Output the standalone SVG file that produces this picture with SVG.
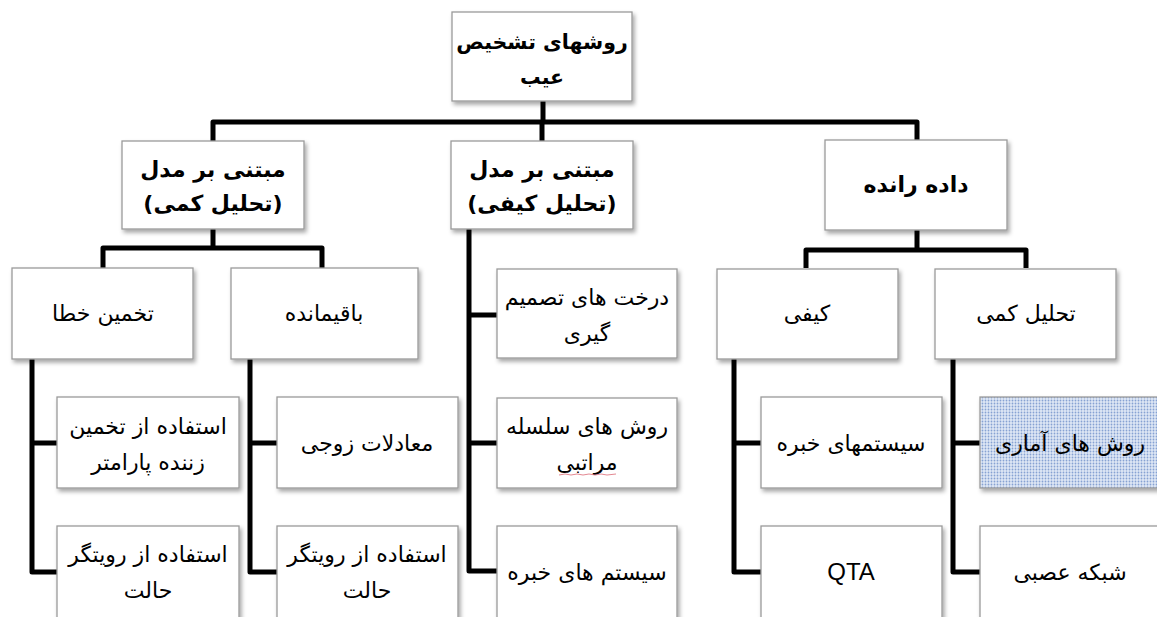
<svg xmlns="http://www.w3.org/2000/svg" width="1157" height="617" viewBox="0 0 1157 617">
  <defs>
    <filter id="sh" x="-10%" y="-10%" width="125%" height="130%">
      <feDropShadow dx="2" dy="3" stdDeviation="2" flood-color="#000" flood-opacity="0.35"/>
    </filter>
    <pattern id="dots" width="3" height="3" patternUnits="userSpaceOnUse">
      <rect width="3" height="3" fill="#dfe7f5"/>
      <circle cx="1.5" cy="1.5" r="0.9" fill="#86a2d3"/>
    </pattern>
    <style>
      .box { fill: #fff; stroke: #9a9a9a; stroke-width: 1.3; filter: url(#sh); }
      .hl { fill: url(#dots); }
      .wire { fill: none; stroke: #000; stroke-width: 5; stroke-linejoin: round; }
      .t { font-family: "DejaVu Sans", "Noto Sans", sans-serif; font-size: 22px; fill: #000; text-anchor: middle; direction: rtl; }
      .b { font-weight: bold; font-size: 22px; }
      .rt { font-size: 20.5px; }
      .lat { font-family: "Liberation Sans", Arial, sans-serif; font-size: 24px; direction: ltr; }
      .squig { fill: none; stroke: #e07a86; stroke-width: 0.9; }
    </style>
  </defs>
  <rect width="1157" height="617" fill="#fff"/>

  <!-- tree connectors -->
  <g id="connectors">
    <path class="wire" d="M543,101 V122"/>
    <path class="wire" d="M213,141 V122 H917 V141"/>
    <path class="wire" d="M542,122 V141"/>
    <path class="wire" d="M213,229 V248"/>
    <path class="wire" d="M103,268 V248 H322 V268"/>
    <path class="wire" d="M917,230 V250"/>
    <path class="wire" d="M806,268 V250 H1026 V268"/>
    <path class="wire" d="M469,229 V571 H497 M469,315 H497 M469,443 H497"/>
    <path class="wire" d="M32,359 V572 H57 M32,443 H57"/>
    <path class="wire" d="M250,359 V572 H277 M250,443 H277"/>
    <path class="wire" d="M734,359 V572 H761 M734,443 H761"/>
    <path class="wire" d="M953,359 V572 H980 M953,443 H980"/>
  </g>

  <!-- root -->
  <g id="root">
    <rect class="box" x="452" y="12" width="180" height="89"/>
    <text class="t b rt" x="542" y="49">روشهای تشخیص</text>
    <text class="t b rt" x="542" y="84">عیب</text>
  </g>

  <!-- first level -->
  <g id="model-quant">
    <rect class="box" x="122" y="141" width="182" height="88"/>
    <text class="t b" x="213" y="177">مبتنی بر مدل</text>
    <text class="t b" x="213" y="211">(تحلیل کمی)</text>
  </g>
  <g id="model-qual">
    <rect class="box" x="451" y="141" width="182" height="88"/>
    <text class="t b" x="542" y="177">مبتنی بر مدل</text>
    <text class="t b" x="542" y="211">(تحلیل کیفی)</text>
  </g>
  <g id="data-driven">
    <rect class="box" x="825" y="140" width="182" height="90"/>
    <text class="t b" x="916" y="192">داده رانده</text>
  </g>

  <!-- second level -->
  <g id="error-estimation">
    <rect class="box" x="12" y="268" width="181" height="91"/>
    <text class="t" x="103" y="321">تخمین خطا</text>
  </g>
  <g id="residual">
    <rect class="box" x="231" y="268" width="187" height="91"/>
    <text class="t" x="324" y="321">باقیمانده</text>
  </g>
  <g id="qualitative">
    <rect class="box" x="717" y="269" width="181" height="90"/>
    <text class="t" x="807" y="321">کیفی</text>
  </g>
  <g id="quantitative">
    <rect class="box" x="935" y="269" width="181" height="90"/>
    <text class="t" x="1026" y="321">تحلیل کمی</text>
  </g>

  <!-- leaves: error estimation -->
  <g id="param-estimator">
    <rect class="box" x="57" y="397" width="182" height="91"/>
    <text class="t" x="148" y="434">استفاده از تخمین</text>
    <text class="t" x="148" y="470">زننده پارامتر</text>
  </g>
  <g id="observer-a">
    <rect class="box" x="57" y="526" width="182" height="100"/>
    <text class="t" x="148" y="562">استفاده از رویتگر</text>
    <text class="t" x="148" y="598">حالت</text>
  </g>

  <!-- leaves: residual -->
  <g id="parity-eq">
    <rect class="box" x="277" y="397" width="181" height="91"/>
    <text class="t" x="367" y="451">معادلات زوجی</text>
  </g>
  <g id="observer-b">
    <rect class="box" x="277" y="526" width="181" height="100"/>
    <text class="t" x="367" y="562">استفاده از رویتگر</text>
    <text class="t" x="367" y="598">حالت</text>
  </g>

  <!-- leaves: qualitative model -->
  <g id="decision-trees">
    <rect class="box" x="497" y="269" width="180" height="89"/>
    <text class="t" x="587" y="305">درخت های تصمیم</text>
    <text class="t" x="587" y="341">گیری</text>
  </g>
  <g id="hierarchy">
    <rect class="box" x="497" y="398" width="180" height="90"/>
    <text class="t" x="587" y="434">روش های سلسله</text>
    <text class="t" x="587" y="470">مراتبی</text>
    <path class="squig" d="M559,475 L565,474 L571,475 L577,474 L583,475 L589,474 L595,475 L601,474 L607,475 L616,474"/>
  </g>
  <g id="expert-sys-a">
    <rect class="box" x="497" y="526" width="180" height="100"/>
    <text class="t" x="587" y="580">سیستم های خبره</text>
  </g>

  <!-- leaves: data driven -->
  <g id="expert-sys-b">
    <rect class="box" x="761" y="397" width="181" height="91"/>
    <text class="t" x="851" y="451">سیستمهای خبره</text>
  </g>
  <g id="qta">
    <rect class="box" x="761" y="526" width="181" height="100"/>
    <text class="t lat" x="851" y="580">QTA</text>
  </g>
  <g id="statistical">
    <rect class="box hl" x="980" y="397" width="181" height="91"/>
    <text class="t" x="1070" y="451">روش های آماری</text>
  </g>
  <g id="neural-net">
    <rect class="box" x="980" y="526" width="181" height="100"/>
    <text class="t" x="1070" y="580">شبکه عصبی</text>
  </g>
</svg>
